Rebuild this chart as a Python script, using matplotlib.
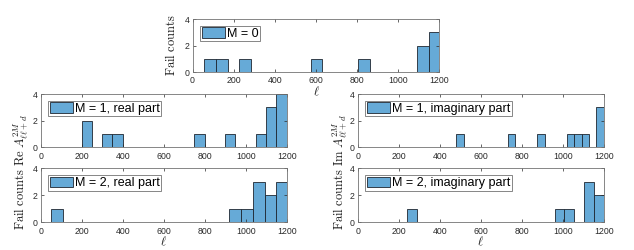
"""
Fail-count histograms over ell for M = 0, 1, 2 (real / imaginary parts).
"""

import matplotlib
matplotlib.use("Agg")
import matplotlib.pyplot as plt
import numpy as np

plt.rcParams["mathtext.fontset"] = "cm"
plt.rcParams["font.family"] = ["Liberation Sans", "DejaVu Sans"]

# each histogram: 20 equal bins between (lower, upper) edge, counts per bin
m0_range = (55, 1209)
m0_counts = [1, 1, 0, 1, 0, 0, 0, 0, 0, 1, 0, 0, 0, 1, 0, 0, 0, 0, 2, 3]

m1_re_range = (200, 1200)
m1_re_counts = [2, 0, 1, 1, 0, 0, 0, 0, 0, 0, 0, 1, 0, 0, 1, 0, 0, 1, 3, 4]

m2_re_range = (52, 1208)
m2_re_counts = [1, 0, 0, 0, 0, 0, 0, 0, 0, 0, 0, 0, 0, 0, 0, 1, 1, 3, 2, 3]

m1_im_range = (481, 1200)
m1_im_counts = [1, 0, 0, 0, 0, 0, 0, 1, 0, 0, 0, 1, 0, 0, 0, 1, 1, 1, 0, 3]

m2_im_range = (242, 1200)
m2_im_counts = [1, 0, 0, 0, 0, 0, 0, 0, 0, 0, 0, 0, 0, 0, 0, 1, 1, 0, 3, 2]

x_ticks = [0, 200, 400, 600, 800, 1000, 1200]
y_ticks = [0, 2, 4]

FACE = (102 / 255, 170 / 255, 215 / 255)
EDGE = "#1e2630"
AXC = "#2a2a2a"

W, H = 634, 250


def _rect(left, top, right, bottom):
    """Pixel box -> figure fraction rect."""
    return [left / W, 1 - bottom / H, (right - left) / W, (bottom - top) / H]


def hist_panel(ax, rng, counts, label):
    counts = np.asarray(counts)
    edges = np.linspace(rng[0], rng[1], len(counts) + 1)
    keep = counts > 0
    ax.bar(edges[:-1][keep], counts[keep], width=np.diff(edges)[keep],
           align="edge", color=FACE, edgecolor=EDGE, linewidth=0.6, label=label)
    ax.set_xlim(0, 1200)
    ax.set_ylim(0, 4)
    ax.set_xticks(x_ticks)
    ax.set_yticks(y_ticks)
    ax.tick_params(direction="in", length=2, width=0.5, top=True, right=True,
                   labelsize=6.3, colors=AXC)
    ax.tick_params(axis="x", pad=3.2)
    ax.tick_params(axis="y", pad=2.3)
    for s in ax.spines.values():
        s.set_linewidth(0.6)
        s.set_color("0.45")
    leg = ax.legend(loc="upper left", bbox_to_anchor=(0.031, 0.87), borderaxespad=0,
                    fontsize=9, fancybox=False, framealpha=1, edgecolor="0.45",
                    borderpad=0.12, handlelength=1.85, handleheight=0.9,
                    handletextpad=0.15)
    leg.get_frame().set_linewidth(0.6)
    return ax


fig = plt.figure(figsize=(W / 100, H / 100), dpi=100)

ax0 = fig.add_axes(_rect(192.5, 19, 439.3, 72))
hist_panel(ax0, m0_range, m0_counts, "M = 0")

ax1 = fig.add_axes(_rect(40.7, 94, 286.7, 147.3))
hist_panel(ax1, m1_re_range, m1_re_counts, "M = 1, real part")

ax2 = fig.add_axes(_rect(40.7, 168.3, 286.7, 222.3))
hist_panel(ax2, m2_re_range, m2_re_counts, "M = 2, real part")

ax3 = fig.add_axes(_rect(357.7, 94, 603.7, 147.3))
hist_panel(ax3, m1_im_range, m1_im_counts, "M = 1, imaginary part")

ax4 = fig.add_axes(_rect(357.7, 168.3, 603.7, 222.3))
hist_panel(ax4, m2_im_range, m2_im_counts, "M = 2, imaginary part")

# axis labels (LaTeX-style serif)
lab = dict(fontsize=9, color="0.1")
fig.text(171 / W, 1 - 45.5 / H, r"$\mathrm{Fail\ counts}$", rotation=90,
         ha="center", va="center", **lab)
fig.text(21 / W, 1 - 172 / H, r"$\mathrm{Fail\ counts\ Re}\ A^{2M}_{\ell\ell+d}$",
         rotation=90, ha="center", va="center", **lab)
fig.text(339.5 / W, 1 - 172 / H, r"$\mathrm{Fail\ counts\ Im}\ A^{2M}_{\ell\ell+d}$",
         rotation=90, ha="center", va="center", **lab)
fig.text(316 / W, 1 - 91.5 / H, r"$\ell$", ha="center", va="center", **lab)
fig.text(163.7 / W, 1 - 241.5 / H, r"$\ell$", ha="center", va="center", **lab)
fig.text(480.7 / W, 1 - 241.5 / H, r"$\ell$", ha="center", va="center", **lab)

fig.savefig("out.png", dpi=100)
